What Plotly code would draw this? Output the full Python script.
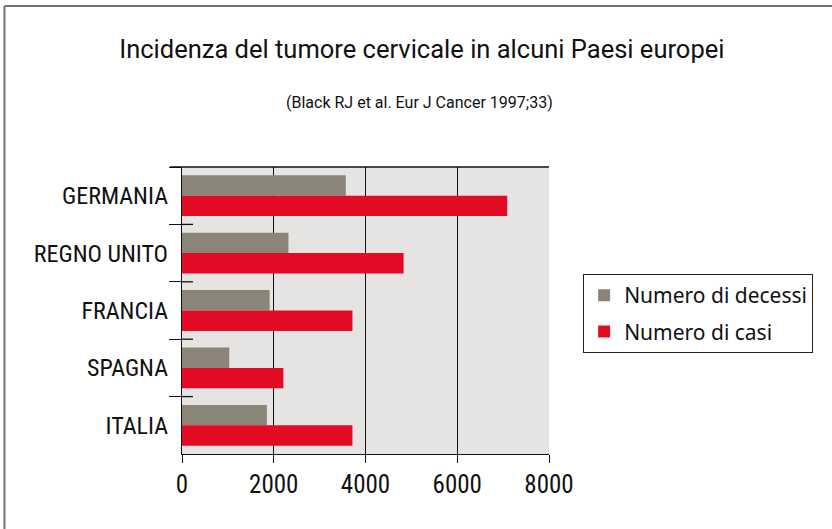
import plotly.graph_objects as go

categories = ["GERMANIA", "REGNO UNITO", "FRANCIA", "SPAGNA", "ITALIA"]
decessi = [3570, 2320, 1910, 1030, 1850]
casi = [7090, 4830, 3715, 2210, 3715]
x_ticks = [0, 2000, 4000, 6000, 8000]
boundaries = [0.5, 1.5, 2.5, 3.5]

narrow = "Roboto Condensed, Liberation Sans Narrow, sans-serif"
wide = "Roboto, Noto Sans, sans-serif"

fig = go.Figure()
fig.add_trace(go.Bar(y=categories, x=decessi, orientation="h", name="Numero di decessi",
                     legendgroup="d", marker=dict(color="#8a8578", line=dict(width=0))))
fig.add_trace(go.Bar(y=categories, x=casi, orientation="h", name="Numero di casi",
                     legendgroup="c", marker=dict(color="#e30a23", line=dict(width=0))))

fig.update_layout(
    width=832, height=529,
    margin=dict(l=182, r=283, t=167, b=75),
    paper_bgcolor="white", plot_bgcolor="#e6e4e2",
    barmode="group", bargap=0.29, bargroupgap=0,
    showlegend=True,
    legend=dict(x=1.093, y=0.627, xanchor="left", yanchor="top",
                bordercolor="#222222", borderwidth=1, bgcolor="white",
                font=dict(family="Noto Sans, sans-serif", size=21, color="#111111"),
                tracegroupgap=6, itemsizing="constant"),
    title=dict(text="Incidenza del tumore cervicale in alcuni Paesi europei",
               x=0.507, xanchor="center", y=0.907, yanchor="middle",
               font=dict(family=wide, size=25.5, color="#111111")),
    annotations=[dict(text="(Black RJ et al. Eur J Cancer 1997;33)", xref="paper", yref="paper",
                      x=0.6485, y=1.223, xanchor="center", yanchor="middle", showarrow=False,
                      font=dict(family=wide, size=16, color="#111111"))],
    xaxis=dict(range=[0, 8000], tickvals=x_ticks, ticktext=[str(v) for v in x_ticks],
               showgrid=True, gridcolor="#111111", gridwidth=1.3,
               showline=True, linecolor="#111111", linewidth=1.3, mirror=False,
               ticks="outside", ticklen=8, tickcolor="#111111", tickwidth=1.3,
               zeroline=False,
               tickfont=dict(family=narrow, size=25, color="#111111")),
    yaxis=dict(autorange="reversed", tickson="boundaries", ticks="outside", ticklen=12,
               tickcolor="#111111", tickwidth=1.3, showgrid=False,
               showline=True, linecolor="#111111", linewidth=1.3,
               ticklabelstandoff=8,
               tickfont=dict(family=narrow, size=24, color="#111111")),
)

# top border line of the plot (extends left like the ticks)
fig.add_shape(type="line", xref="paper", yref="paper", x0=-0.033, x1=1, y0=1, y1=1,
              line=dict(color="#111111", width=1.3))
# inner part of the category separator ticks
for b in boundaries:
    fig.add_shape(type="line", xref="x domain", yref="y", x0=0, x1=0.03, y0=b, y1=b,
                  line=dict(color="#111111", width=1.3))
# outer frame
fig.add_shape(type="line", xref="paper", yref="paper", x0=-0.4837, x1=1.78, y0=1.561, y1=1.561,
              line=dict(color="#707070", width=2))
fig.add_shape(type="line", xref="paper", yref="paper", x0=-0.4837, x1=-0.4837, y0=1.561, y1=-0.3,
              line=dict(color="#707070", width=2))

fig.write_html("out.html", config={"displayModeBar": False},
               post_script="document.body.style.margin='0';")
